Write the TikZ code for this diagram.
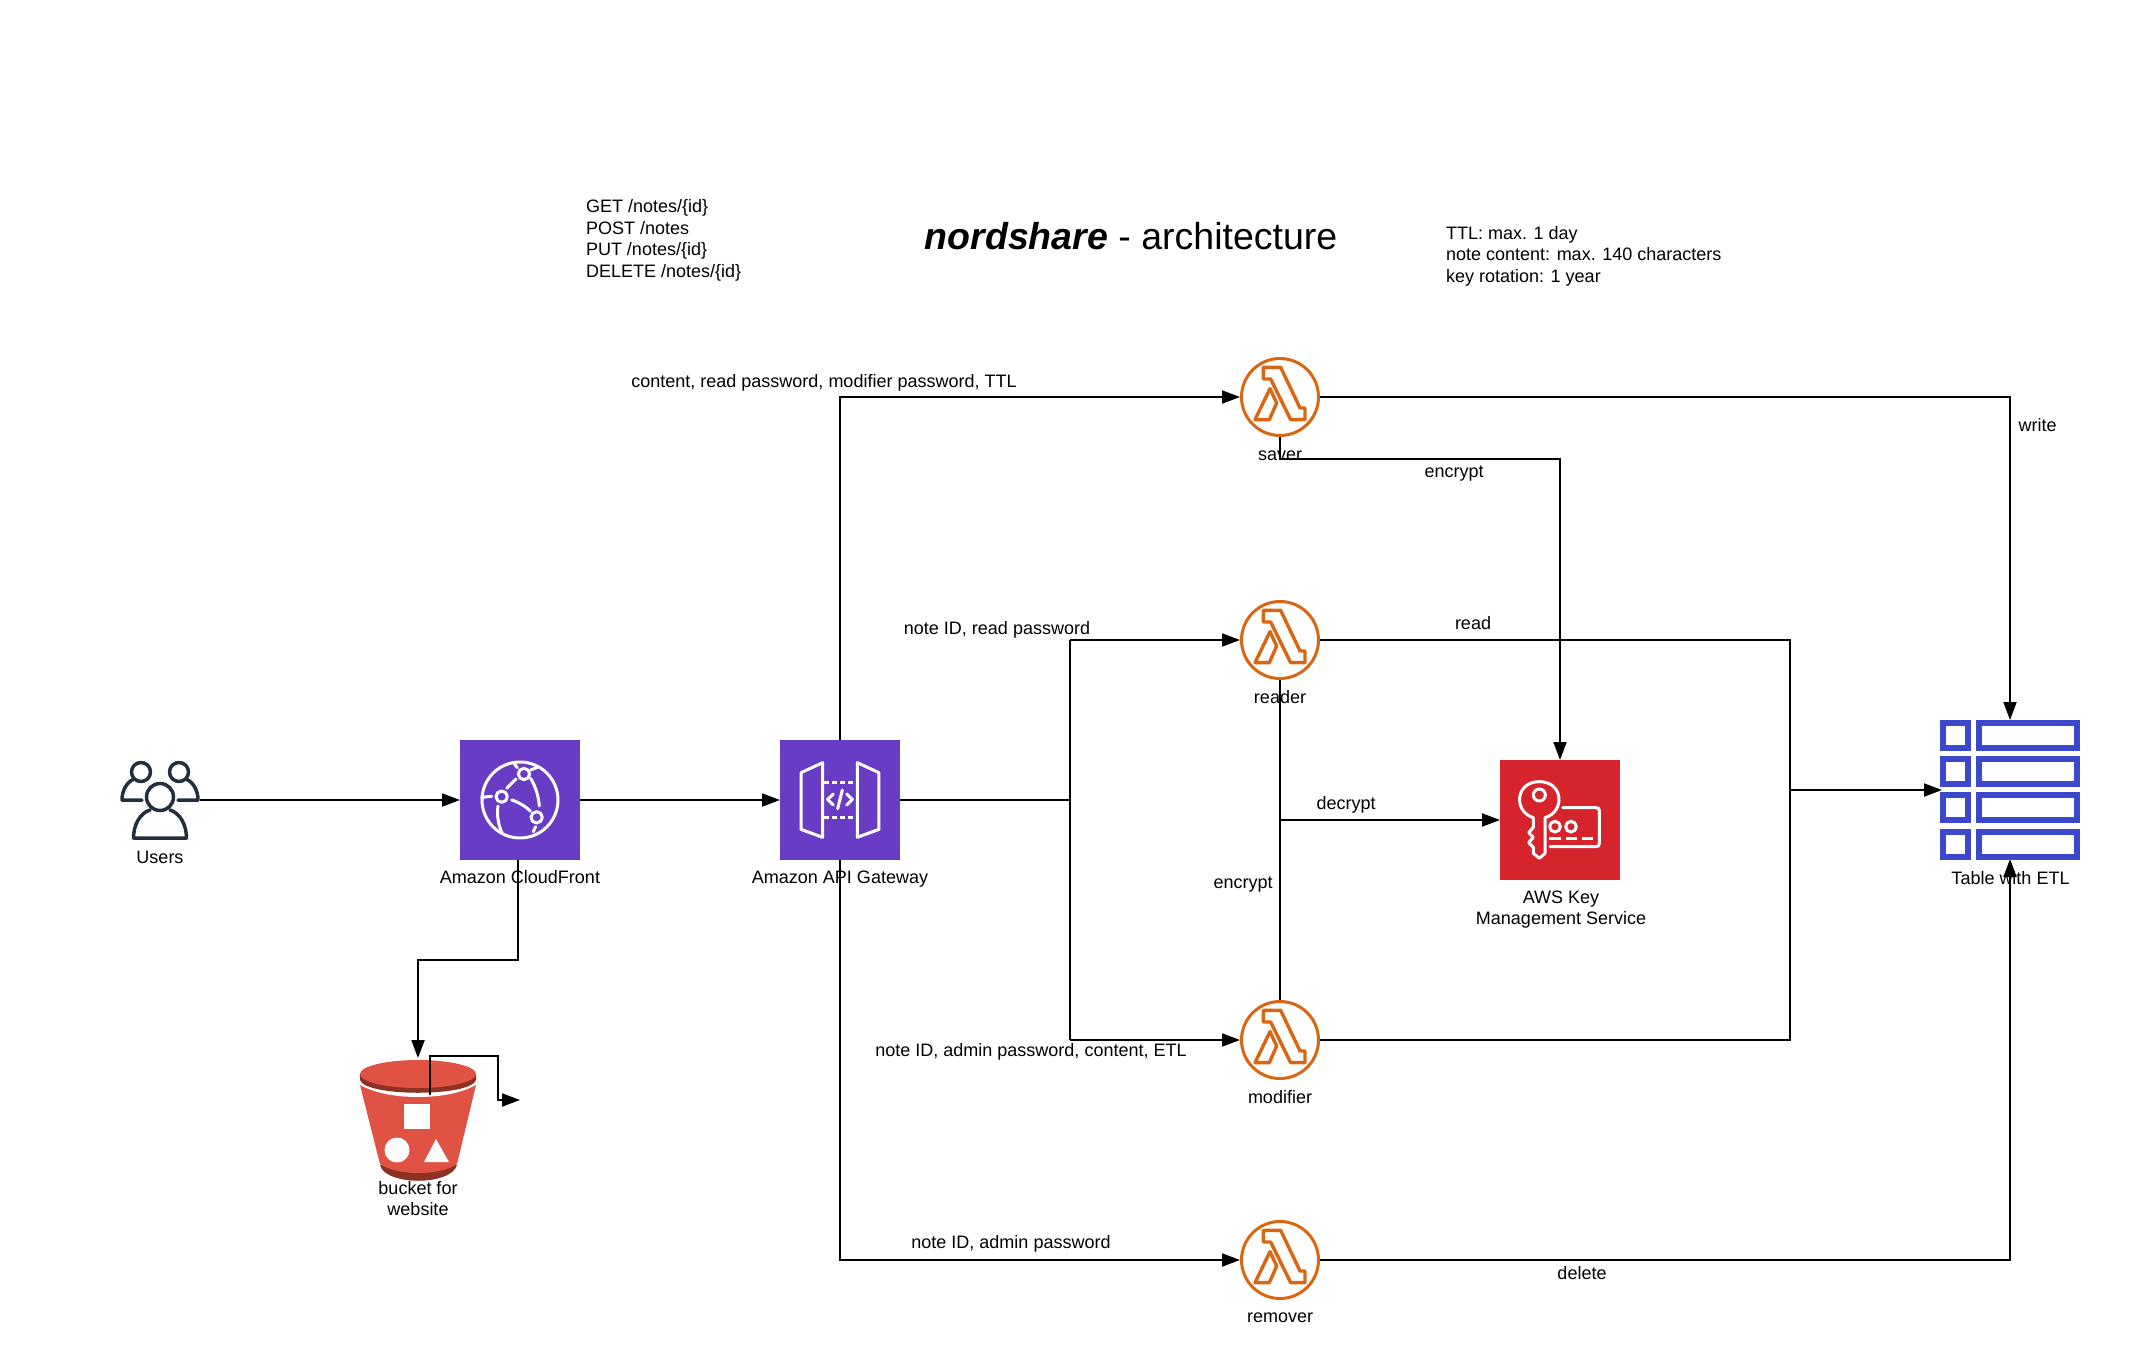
\documentclass[tikz,border=0pt]{standalone}
\usepackage{fontspec}
\setmainfont{Liberation Sans}
\usetikzlibrary{arrows.meta}
\definecolor{awspurple}{HTML}{693CC5}
\definecolor{awsred}{HTML}{D6242D}
\definecolor{awsorange}{HTML}{D86613}
\definecolor{awsblue}{HTML}{3B48CC}
\definecolor{awsink}{HTML}{232F3E}
\definecolor{bucketred}{HTML}{E05243}
\definecolor{bucketdark}{HTML}{8C3123}
\tikzset{
  flow/.style={line width=2pt,-{Triangle[length=18pt,width=13pt]}},
  wire/.style={line width=2pt},
  tile/.style={rectangle,minimum size=120pt,inner sep=0pt,outer sep=0pt,draw=none},
  lamb/.style={circle,draw=awsorange,line width=3pt,minimum size=77pt,inner sep=0pt,fill=white},
  slot/.style={rectangle,inner sep=0pt,outer sep=0pt,draw=none},
  txt/.style={inner sep=0pt,outer sep=0pt,font=\fontsize{18}{21.5}\selectfont,align=center},
  txl/.style={inner sep=0pt,outer sep=0pt,font=\fontsize{18}{21.5}\selectfont,align=left,anchor=west},
  glyph/.style={draw=white,line width=3pt,line join=round,line cap=round,fill=none},
  lglyph/.style={draw=awsorange,line width=3.4pt,line join=round,fill=none},
  person/.style={draw=awsink,line width=3.5pt,line join=round,line cap=round}
}
\newcommand{\lambdaglyph}[1]{%
  \begin{scope}[shift={(#1)},x=.3333pt,y=-.3333pt]
    \draw[lglyph] (-50,-89) -- (2,-89) -- (60,33) -- (75,33) -- (75,68) -- (32,68) -- (-28,-54) -- (-50,-54) -- cycle;
    \draw[lglyph] (-30,-25) -- (-10,18) -- (-32,68) -- (-75,68) -- cycle;
  \end{scope}}
\begin{document}
\begin{tikzpicture}[x=1pt,y=-1pt]
\useasboundingbox (0,0) rectangle (2150,1363);
% ---- nodes
\node[slot,minimum width=80pt,minimum height=80pt] (users) at (160,800) {};
\node[tile,fill=awspurple] (cf) at (520,800) {};
\node[tile,fill=awspurple] (api) at (840,800) {};
\node[tile,fill=awsred] (kms) at (1560,820) {};
\node[slot,minimum width=140pt,minimum height=140pt] (table) at (2010,790) {};
\node[slot,minimum width=116pt,minimum height=122pt] (bucket) at (418,1119) {};
% ---- routing points
\coordinate (apiJ) at (1070,800);
\coordinate (apiRead) at (1070,640);
\coordinate (apiMod) at (1070,1040);
\coordinate (cfOut) at (518,860);
\coordinate (cfMid) at (518,960);
\coordinate (bkMid) at (418,960);
\coordinate (loopA) at (430,1095);
\coordinate (loopB) at (430,1056);
\coordinate (loopC) at (498,1056);
\coordinate (loopD) at (498,1100);
\coordinate (loopE) at (520,1100);
\coordinate (apiUp) at (840,397);
\coordinate (apiDown) at (840,1260);
\coordinate (saveR) at (2010,397);
\coordinate (remR) at (2010,1260);
\coordinate (saveE) at (1280,459);
\coordinate (saveK) at (1560,459);
\coordinate (busTop) at (1790,640);
\coordinate (busBot) at (1790,1040);
\coordinate (busJ) at (1790,790);
\coordinate (decJ) at (1280,820);
% ---- lambda nodes
\draw[wire] (api.east) -- (apiJ);
\draw[wire] (apiRead) -- (apiMod);
\draw[flow] (users.east) -- (cf.west);
\draw[flow] (cf.east) -- (api.west);
\node[lamb] (saver) at (1280,397) {};
\node[lamb] (reader) at (1280,640) {};
\node[lamb] (modifier) at (1280,1040) {};
\node[lamb] (remover) at (1280,1260) {};
\lambdaglyph{1280,397}
\lambdaglyph{1280,640}
\lambdaglyph{1280,1040}
\lambdaglyph{1280,1260}
% ---- connectors
\draw[flow] (api.north) -- (apiUp) -- (saver.west);
\draw[flow] (api.south) -- (apiDown) -- (remover.west);
\draw[flow] (apiRead) -- (reader.west);
\draw[flow] (apiMod) -- (modifier.west);
\draw[flow] (saver.east) -- (saveR) -- (table.north);
\draw[flow] (remover.east) -- (remR) -- ([yshift=1pt]table.south);
\draw[flow] (saver.south) -- (saveE) -- (saveK) -- (kms.north);
\draw[wire] (reader.east) -- (busTop) -- (busBot) -- (modifier.east);
\draw[flow] (busJ) -- ([xshift=2pt]table.west);
\draw[wire] (reader.south) -- (modifier.north);
\draw[flow] (decJ) -- (kms.west);
\draw[flow] (cfOut) -- (cfMid) -- (bkMid) -- (bucket.north);
% ---- users icon
\draw[person] (141,772) circle (9.5);
\draw[person] (179,772) circle (9.5);
\draw[person] (142,800) -- (122,800) .. controls (122,790) and (127,782) .. (134,779);
\draw[person] (178,800) -- (198,800) .. controls (198,790) and (193,782) .. (186,779);
\draw[person] (160,797) circle (13.5);
\draw[person] (150,810) .. controls (140,813) and (133.5,825) .. (133.5,838) -- (186.5,838) .. controls (186.5,825) and (180,813) .. (170,810);
% ---- CloudFront icon
\begin{scope}[shift={(440,720)},x=.3333pt,y=-.3333pt]
  \draw[glyph] (240,240) circle (114);
  \draw[glyph] (252,162) circle (17);
  \draw[glyph] (185,230) circle (17);
  \draw[glyph] (290,292) circle (17);
  \draw[glyph] (200,205) -- (228,177);
  \draw[glyph] (215,240) .. controls (235,246) and (258,260) .. (272,274);
  \draw[glyph] (272,175) .. controls (287,200) and (296,230) .. (298,258);
  \draw[glyph] (174,258) .. controls (170,285) and (175,315) .. (186,338);
  \draw[glyph] (125,232) -- (155,229);
  \draw[glyph] (222,130) -- (232,143);
  \draw[glyph] (272,150) -- (292,142);
  \draw[glyph] (280,335) -- (287,320);
\end{scope}
% ---- API Gateway icon
\begin{scope}[shift={(750,720)},x=.3333pt,y=-.3333pt]
  \draw[glyph] (153,158) -- (218,128) -- (218,352) -- (153,328) -- cycle;
  \draw[glyph] (322,128) -- (387,158) -- (387,328) -- (322,352) -- cycle;
  \draw[glyph,line cap=butt,dash pattern=on 5pt off 3pt] (222,186) -- (318,186);
  \draw[glyph,line cap=butt,dash pattern=on 5pt off 3pt] (222,292) -- (318,292);
  \draw[glyph] (250,222) -- (233,238) -- (250,255);
  \draw[glyph] (290,222) -- (307,238) -- (290,255);
  \draw[glyph] (277,210) -- (263,266);
\end{scope}
% ---- KMS icon
\begin{scope}[shift={(1490,740)},x=.3333pt,y=-.3333pt]
  \draw[glyph] (130,233) .. controls (70,215) and (75,125) .. (148,125) .. controls (221,125) and (226,215) .. (165,233) -- (165,340) -- (148,355) -- (130,340) -- (130,322) -- (116,308) -- (130,292) -- (116,278) -- (130,262) -- cycle;
  \draw[glyph] (148,165) circle (18);
  \draw[glyph] (218,203) -- (318,203) .. controls (325,203) and (328,206) .. (328,212) -- (328,310) .. controls (328,317) and (325,320) .. (318,320) -- (180,320);
  \draw[glyph] (195,260) circle (16);
  \draw[glyph] (243,260) circle (16);
  \draw[glyph,line cap=butt] (178,295) -- (212,295);
  \draw[glyph,line cap=butt] (228,295) -- (260,295);
  \draw[glyph,line cap=butt] (275,295) -- (308,295);
\end{scope}
% ---- table icon
\foreach \ya/\yb in {720/751,756/787,792/823,829/860}{
  \draw[awsblue,line width=6pt] (1943,\ya+3) rectangle (1968,\yb-3);
  \draw[awsblue,line width=6pt] (1979,\ya+3) rectangle (2077,\yb-3);
}
% ---- bucket icon
\fill[bucketdark] (380,1165) .. controls (385,1186) and (451,1186) .. (457,1165) -- cycle;
\fill[bucketred] (360,1085) .. controls (385,1099) and (451,1099) .. (476,1085) -- (457,1164) .. controls (440,1176) and (397,1176) .. (380,1164) -- cycle;
\draw[white,line width=2.5pt] (360,1083) .. controls (385,1100) and (451,1100) .. (476,1083);
\fill[bucketdark] (360,1074) -- (360,1080) .. controls (365,1097) and (471,1097) .. (476,1080) -- (476,1074) -- cycle;
\fill[bucketred] (418,1074) ellipse (58 and 14);
\fill[white] (404,1104) rectangle (430,1129);
\fill[white] (397,1150) circle (12.5);
\fill[white] (436,1139) -- (449,1162) -- (424,1162) -- cycle;
\draw[flow] (loopA) -- (loopB) -- (loopC) -- (loopD) -- (loopE);
% ---- labels
\node[txl] (routes) at (586,240.5) {GET /notes/\{id\}\\POST /notes\\PUT /notes/\{id\}\\DELETE /notes/\{id\}};
\node[inner sep=0pt,font=\fontsize{37.5}{44}\selectfont] (title) at (1131,236) {\textbf{\textit{nordshare}} - architecture};
\node[txl] (limits) at (1446,256) {TTL: max. 1 day\\note content: max. 140 characters\\key rotation: 1 year};
\node[txt] (lbUsers) at (160,857.5) {Users};
\node[txt] (lbCf) at (520,877) {Amazon CloudFront};
\node[txt] (lbApi) at (840,879.5) {Amazon API Gateway};
\node[txt] (lbKms) at (1561,909.5) {AWS Key\\Management Service};
\node[txt] (lbTable) at (2010.5,878) {Table with ETL};
\node[txt] (lbBucket) at (418,1198.5) {bucket for\\website};
\node[txt] (lbSaver) at (1280,456) {saver};
\node[txt] (lbReader) at (1280,697) {reader};
\node[txt] (lbModifier) at (1280,1097) {modifier};
\node[txt] (lbRemover) at (1280,1318) {remover};
\node[txt] (e1) at (824,382.5) {content, read password, modifier password, TTL};
\node[txt] (e2) at (997,630) {note ID, read password};
\node[txt] (e3) at (1031,1052) {note ID, admin password, content, ETL};
\node[txt] (e4) at (1011,1244) {note ID, admin password};
\node[txt] (e5) at (2037.5,425.5) {write};
\node[txt] (e6) at (1454,474) {encrypt};
\node[txt] (e7) at (1473,623) {read};
\node[txt] (e8) at (1346,805) {decrypt};
\node[txt] (e9) at (1243,885) {encrypt};
\node[txt] (e10) at (1582,1273) {delete};
\end{tikzpicture}
\end{document}
